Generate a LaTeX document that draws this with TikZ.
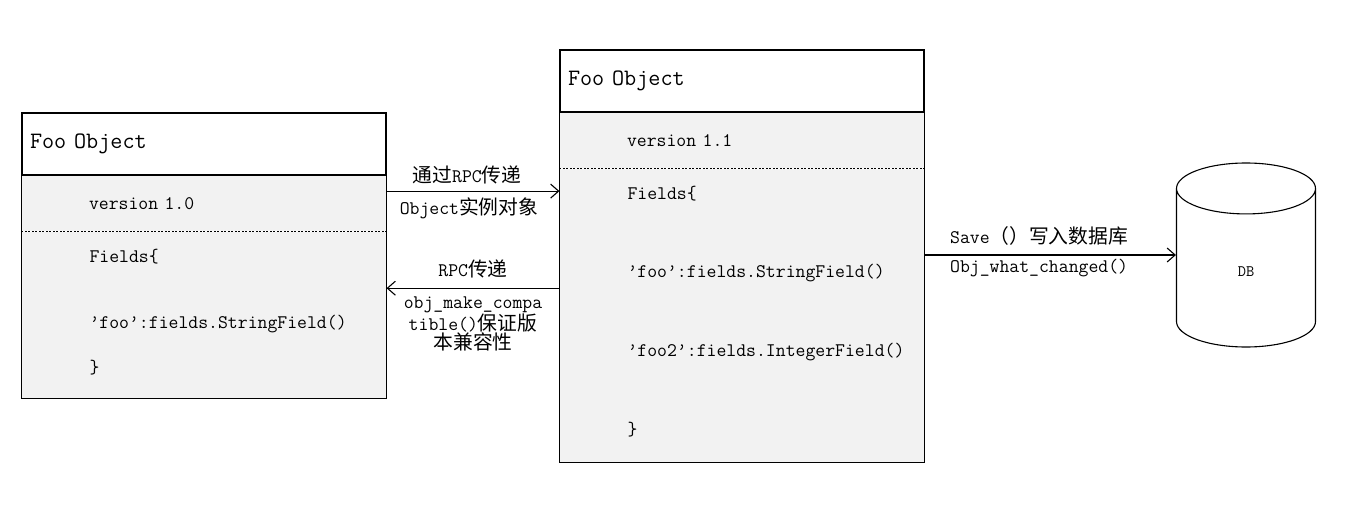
\documentclass[tikz,border=0pt]{standalone}
\usepackage{fontspec}
\newfontfamily\cjk[Scale=1.03]{Noto Sans CJK SC}
\newcommand{\zh}[1]{{\cjk #1}}
\usetikzlibrary{arrows.meta,positioning,shapes.geometric}
\definecolor{fieldgray}{RGB}{242,242,242}

\begin{document}
\begin{tikzpicture}[x=1pt,y=-1pt,>={Straight Barb[length=8pt,width=14pt]},line width=1.1pt,
  every node/.style={font=\ttfamily\fontsize{19.2}{19}\selectfont},
  head/.style={draw,fill=white,minimum width=364pt,minimum height=62pt,inner xsep=8pt,text width=348pt,align=left,font=\ttfamily\fontsize{23.5}{24}\selectfont},
  ver/.style={fill=fieldgray,minimum width=364pt,minimum height=55pt,inner xsep=67pt,text width=230pt,align=left},
  fld/.style={fill=fieldgray,minimum width=364pt,inner sep=0pt},
  line/.style={anchor=west,inner sep=0pt},
  lbl/.style={inner sep=6pt},
  sep/.style={line width=0.8pt,dash pattern=on 2pt off 1.5pt}]
  \useasboundingbox (0,0) rectangle (1362,516);

  % Foo Object, version 1.0
  \node[head] (lhead) at (204,144) {Foo Object};
  \node[ver] (lver) [below=0pt of lhead] {version 1.0};
  \node[fld,minimum height=166pt] (lfld) [below=0pt of lver] {};
  \draw (lver.north west) rectangle (lfld.south east);
  \draw[sep] (lver.south west) -- (lver.south east);
  \node[line] (lf1) at (89,257) {Fields\{};
  \node[line] (lf2) at (89,324) {’foo’:fields.StringField()};
  \node[line] (lf3) at (89,368) {\}};

  % Foo Object, version 1.1
  \node[head] (mhead) at (742,81) {Foo Object};
  \node[ver] (mver) [below=0pt of mhead] {version 1.1};
  \node[fld,minimum height=293pt] (mfld) [below=0pt of mver] {};
  \draw (mver.north west) rectangle (mfld.south east);
  \draw[sep] (mver.south west) -- (mver.south east);
  \node[line] (mf1) at (627,194) {Fields\{};
  \node[line] (mf2) at (627,273) {’foo’:fields.StringField()};
  \node[line] (mf3) at (627,352) {’foo2’:fields.IntegerField()};
  \node[line] (mf4) at (627,430) {\}};

  % database
  \node[cylinder,draw,shape border rotate=90,aspect=2.2,minimum width=139pt,minimum height=184pt,anchor=shape center,font=\ttfamily\fontsize{16}{18}\selectfont] (db) at (1246,255) {DB};

  % RPC
  \coordinate (a1) at ([yshift=12.5pt]lver.east);
  \draw[->] (a1) -- (a1 -| mfld.west)
    node[lbl,midway,above,xshift=-6pt] {\zh{通过}RPC\zh{传递}}
    node[lbl,midway,below,xshift=-4pt] {Object\zh{实例对象}};
  \coordinate (a2) at ([yshift=27pt]lfld.east);
  \draw[->] (a2 -| mfld.west) -- (a2)
    node[lbl,midway,above,yshift=4pt] {RPC\zh{传递}}
    node[lbl,midway,below,align=center,yshift=-2pt] {obj\_make\_compa\\tible()\zh{保证版}\\\zh{本兼容性}};

  % save
  \draw[->] (mfld.east |- db.shape center) -- (db.shape center -| db.west)
    node[lbl,pos=0,above right,xshift=19pt,yshift=3pt] {Save\zh{（）写入数据库}}
    node[lbl,pos=0,below right,xshift=19pt,inner ysep=4pt] {Obj\_what\_changed()};
\end{tikzpicture}
\end{document}
